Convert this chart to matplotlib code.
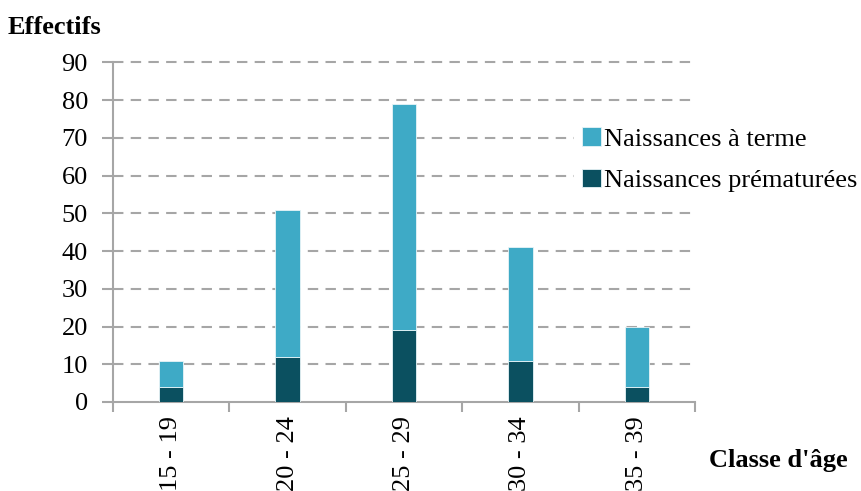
import numpy as np
import matplotlib
matplotlib.use('Agg')
import matplotlib.pyplot as plt
from matplotlib.ticker import FixedLocator

classes = ['15 - 19', '20 - 24', '25 - 29', '30 - 34', '35 - 39']
prematurees = [4, 12, 19, 11, 4]
a_terme = [7, 39, 60, 30, 16]
y_ticks = [0, 10, 20, 30, 40, 50, 60, 70, 80, 90]

light = '#3EAAC6'
dark = '#0B5060'
grey = '#A6A6A6'

plt.rcParams['font.family'] = ['Liberation Serif', 'DejaVu Serif']
plt.rcParams['font.size'] = 19

fig = plt.figure(figsize=(8.61, 4.91), dpi=100)
ax = fig.add_axes([113 / 861, 1 - 402 / 491, (695 - 113) / 861, (402 - 62.5) / 491])

x = np.arange(len(classes))
ax.bar(x, prematurees, width=0.21, color=dark, edgecolor='#e8f4f7', linewidth=0.6,
       label='Naissances prématurées', zorder=3)
ax.bar(x, a_terme, width=0.21, bottom=prematurees, color=light, edgecolor='#e8f4f7',
       linewidth=0.6, label='Naissances à terme', zorder=3)

ax.set_xlim(-0.5, len(classes) - 0.5)
ax.set_ylim(0, 90)
ax.set_yticks(y_ticks)
ax.set_xticks(x)
ax.set_xticklabels(classes, rotation=90, va='top')
ax.xaxis.set_minor_locator(FixedLocator(np.arange(len(classes) + 1) - 0.5))
ax.tick_params(axis='x', which='major', length=0, pad=10)
ax.tick_params(axis='x', which='minor', length=7, width=1.5, color=grey)
ax.tick_params(axis='y', length=8, width=1.5, color=grey, pad=10)

for y in y_ticks[1:]:
    ax.axhline(y, color=grey, linestyle=(0, (5, 3.5)), linewidth=1.5, zorder=1,
               xmin=0, xmax=1, clip_on=False)

for side in ['top', 'right']:
    ax.spines[side].set_visible(False)
for side in ['left', 'bottom']:
    ax.spines[side].set_color(grey)
    ax.spines[side].set_linewidth(1.5)

handles, labels = ax.get_legend_handles_labels()
leg = fig.legend(handles[::-1], labels[::-1], loc='upper left',
                 bbox_to_anchor=(561 / 861, 1 - 106 / 491), frameon=True,
                 fancybox=False, edgecolor='white', facecolor='white', framealpha=1,
                 handlelength=0.7, handleheight=0.7, handletextpad=0.12,
                 labelspacing=0.68, borderpad=0.3, fontsize=19)
leg.set_zorder(5)

fig.text(8 / 861, 1 - 28 / 491, 'Effectifs', fontweight='bold', fontsize=19,
         va='center', ha='left')
fig.text(778 / 861, 1 - 460 / 491, "Classe d'âge", fontweight='bold', fontsize=19,
         va='center', ha='center')

fig.savefig('out.png', dpi=100)
